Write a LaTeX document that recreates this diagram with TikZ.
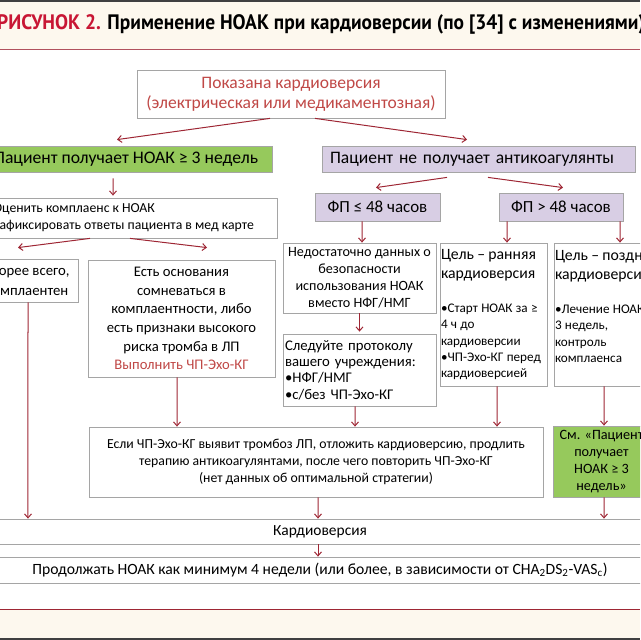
\documentclass[tikz,border=0pt]{standalone}
\usepackage{fontspec}
\setmainfont{Carlito}
\newfontfamily\titlefont[FakeStretch=0.93]{PT Sans}
\usepackage{tikz}
\usetikzlibrary{calc, arrows.meta, positioning}
\definecolor{arrowred}{RGB}{158,38,52}
\definecolor{boxgray}{RGB}{165,165,165}
\definecolor{textred}{RGB}{192,72,70}
\definecolor{titlered}{RGB}{200,22,52}
\definecolor{noacgreen}{RGB}{150,201,92}
\definecolor{lilac}{RGB}{216,206,228}
\definecolor{cream}{RGB}{253,248,238}
\tikzset{
	plainbox/.style={draw=boxgray, fill=white, line width=0.8bp, inner sep=0pt, align=center}
}
\tikzset{
	greenbox/.style={plainbox, fill=noacgreen}
}
\tikzset{
	lilacbox/.style={plainbox, fill=lilac}
}
\tikzset{
	flowarrow/.style={draw=arrowred, line width=1bp, -{Straight Barb[length=4bp,width=7bp]}}
}
\newcommand{\fsz}[2]{\fontsize{#1}{#2}\selectfont}

\begin{document}
\begin{tikzpicture}[x=1bp, y=-1bp]
      \useasboundingbox (0,0) rectangle (640,640);
      \clip (0,0) rectangle (640,640);
      \fill[cream] (0,0) rectangle (640,49);
      \draw[line width=2bp, black!75] (0,1) -- (640,1);
      \draw[line width=1.2bp, arrowred!80] (0,49.5) -- (640,49.5);
      \fill[cream] (0,610) rectangle (640,640);
      \draw[line width=1.4bp, arrowred] (0,609.5) -- (640,609.5);
      \draw[line width=2bp, black!75] (0,639) -- (640,639);
      \node[anchor=base west, inner sep=0pt, font=\titlefont\bfseries\fsz{21}{24}] (title) at (-3,30)
        {\textcolor{titlered}{РИСУНОК 2.} Применение НОАК при кардиоверсии (по [34] с изменениями)};

      \node[plainbox, minimum width=308bp, minimum height=48bp, text=textred, font=\fsz{17.6}{20}] (show) at (291,94)
        {Показана кардиоверсия\\(электрическая или медикаментозная)};
      \node[greenbox, minimum width=292bp, minimum height=26bp, font=\fsz{17.7}{20}] (onnoac) at (126,159)
        {Пациент получает НОАК ≥ 3 недель};
      \node[lilacbox, align=left, text width=297bp, inner xsep=8bp, minimum height=26bp, font=\fsz{17.6}{20}] (nonoac) at (478.5,159)
        {Пациент не получает антикоагулянты};
      \node[plainbox, align=left, minimum width=307bp, minimum height=40bp, font=\fsz{13.8}{17}] (comply) at (123.5,218)
        {Оценить комплаенс к НОАК\\Зафиксировать ответы пациента в мед карте};
      \node[lilacbox, minimum width=125bp, minimum height=28bp, font=\fsz{17}{20}] (le48) at (377.5,207) {ФП ≤ 48 часов};
      \node[lilacbox, minimum width=124bp, minimum height=28bp, font=\fsz{17}{20}] (gt48) at (561,207) {ФП > 48 часов};

      \node[plainbox, minimum width=102bp, minimum height=43bp, font=\fsz{14.8}{20}] (likely) at (27,280.5)
        {Скорее всего,\\комплаентен};
      \node[plainbox, minimum width=187bp, minimum height=117bp, font=\fsz{14.7}{18.7}] (doubt) at (181.5,318.5)
        {Есть основания\\сомневаться в\\комплаентности, либо\\есть признаки высокого\\риска тромба в ЛП\\\textcolor{textred}{Выполнить ЧП-Эхо-КГ}};
      \node[plainbox, minimum width=153bp, minimum height=70bp, font=\fsz{14.2}{17}] (nodata) at (359.5,278)
        {Недостаточно данных о\\безопасности\\использования НОАК\\вместо НФГ/НМГ};
      \node[plainbox, align=left, text width=149bp, inner xsep=2bp, minimum height=72bp, font=\fsz{14.8}{16.5}] (protocol) at (359.5,370)
        {Следуйте протоколу\\вашего учреждения:\\•НФГ/НМГ\\•с/без ЧП-Эхо-КГ};
      \node[plainbox, align=left, text width=105bp, inner xsep=1bp, minimum height=143bp] (early) at (493.5,314.5)
        {{\fsz{15.8}{19}Цель – ранняя\\кардиоверсия\par}\vspace{18bp}%
         {\fsz{13.2}{16.2}•Старт НОАК за ≥\\4 ч до\\кардиоверсии\\•ЧП-Эхо-КГ перед\\кардиоверсией\par}};
      \node[plainbox, align=left, text width=105bp, inner xsep=1bp, minimum height=143bp] (late) at (607.5,314.5)
        {{\fsz{15.8}{19}Цель – поздняя\\кардиоверсия\par}\vspace{18bp}%
         {\fsz{13.2}{16.2}•Лечение НОАК ≥\\3 недель,\\контроль\\комплаенса\\~\par}};

      \node[plainbox, minimum width=454bp, minimum height=70bp, font=\fsz{13.8}{17.5}] (ifthrombus) at (316,462)
        {Если ЧП-Эхо-КГ выявит тромбоз ЛП, отложить кардиоверсию, продлить\\терапию антикоагулянтами, после чего повторить ЧП-Эхо-КГ\\(нет данных об оптимальной стратегии)};
      \node[greenbox, minimum width=97bp, minimum height=71bp, font=\fsz{14.3}{17}] (see) at (601.5,461.5)
        {См. «Пациент\\получает\\НОАК ≥ 3\\недель»};
      \node[plainbox, minimum width=650bp, minimum height=25bp, font=\fsz{15.5}{18}] (cardio) at (320,531.5) {Кардиоверсия};
      \node[plainbox, minimum width=650bp, minimum height=26bp, font=\fsz{15.7}{18}] (cont) at (320,570)
        {Продолжать НОАК как минимум 4 недели (или более, в зависимости от CHA\textsubscript{2}DS\textsubscript{2}-VAS\textsubscript{c})};

      \draw[flowarrow] ([xshift=-21bp]show.south) -- ([xshift=-9bp,yshift=6bp]onnoac.north);
      \draw[flowarrow] ([xshift=24bp]show.south) -- ([xshift=-11.5bp,yshift=6bp]nonoac.north);
      \draw[flowarrow] ([xshift=-13bp,yshift=-6bp]onnoac.south) -- ([xshift=-10.5bp,yshift=2bp]comply.north);
      \draw[flowarrow] ([xshift=-33.5bp]comply.south) -- ([xshift=-9bp,yshift=11bp]likely.north);
      \draw[flowarrow] ([xshift=6.5bp]comply.south) -- ([xshift=25.5bp,yshift=12bp]doubt.north);
      \draw[flowarrow] ([xshift=-31.5bp,yshift=-5bp]nonoac.south) -- ([xshift=-1.5bp,yshift=5bp]le48.north);
      \draw[flowarrow] ([xshift=9.5bp,yshift=-5bp]nonoac.south) -- ([xshift=2bp,yshift=5bp]gt48.north);
      \draw[flowarrow] ([xshift=-15.5bp]le48.south) -- ([xshift=2.5bp]nodata.north);
      \draw[flowarrow] ([xshift=-54bp]gt48.south) -- ([xshift=13.5bp]early.north);
      \draw[flowarrow] ([xshift=59bp]gt48.south) -- ([xshift=12.5bp]late.north);
      \draw[flowarrow] (nodata.south) -- ([yshift=2bp]protocol.north);
      \draw[flowarrow] ([xshift=1bp]likely.south) -- ([xshift=-292bp]cardio.north);
      \draw[flowarrow] ([xshift=-4.5bp]doubt.south) -- ([xshift=-139bp]ifthrombus.north);
      \draw[flowarrow] ([xshift=-4.5bp]protocol.south) -- ([xshift=39bp]ifthrombus.north);
      \draw[flowarrow] ([xshift=3.5bp]early.south) -- ([xshift=181bp]ifthrombus.north);
      \draw[flowarrow] ([xshift=-3.5bp]late.south) -- ([xshift=2.5bp]see.north);
      \draw[flowarrow] ([xshift=2bp]ifthrombus.south) -- ([xshift=-2bp]cardio.north);
      \draw[flowarrow] ([xshift=2.5bp]see.south) -- ([xshift=284bp]cardio.north);
      \draw[flowarrow] ([xshift=-2bp]cardio.south) -- ([xshift=-2bp]cont.north);
\end{tikzpicture}
\end{document}
